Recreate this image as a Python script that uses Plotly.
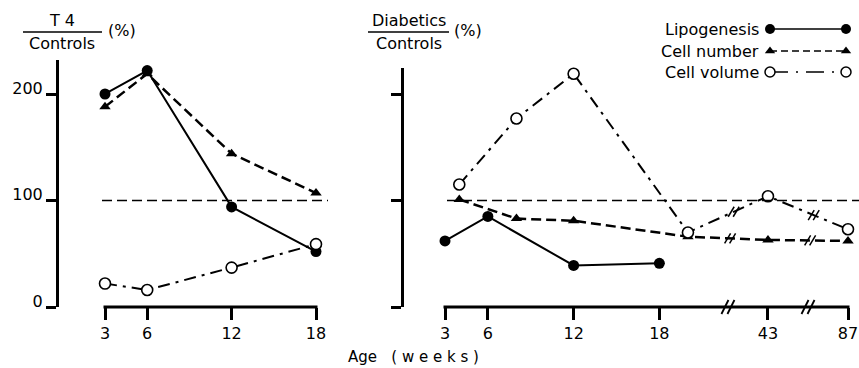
import numpy as np
import plotly.graph_objects as go

W, H = 859, 368

# ---------------- data ----------------
left_ages = [3, 6, 12, 18]
left_lipogenesis = [200, 222, 94, 52]
left_cell_number = [188, 219, 144, 107]
left_cell_volume = [22, 16, 37, 59]

right_lipo_ages = [3, 6, 12, 18]
right_lipogenesis = [62, 85, 39, 41]
right_other_ages = [4, 8, 12, 20, 43, 87]
right_cell_number = [101, 83, 81, 66, 63, 62]
right_cell_volume = [115, 177, 219, 70, 104, 73]

left_xticks = [3, 6, 12, 18]
right_xticks = [3, 6, 12, 18, 43, 87]
yticks = [0, 100, 200]
reference_level = 100

series_names = ["Lipogenesis", "Cell number", "Cell volume"]

# ---------------- broken axis scale ----------------
LINEAR_END = 20
BROKEN_AGES = [43, 87]
GAP = 5.6


def bx(age):
    if age <= LINEAR_END:
        return age
    return LINEAR_END + GAP * (BROKEN_AGES.index(age) + 1)


# ---------------- layout geometry (pixels) ----------------
Y0_PX = 307.0          # pixel row of y = 0
Y_SCALE = 1.065        # px per %
L_X = (105, 316)       # left x-axis pixel extent (3 .. 18)
R_X = (445, 848)       # right x-axis pixel extent (3 .. 87)
L_TOP, R_TOP = 60, 68  # top of y axis lines
L_YAX, R_YAX = 57, 402

R_RANGE = (3, bx(87))


def px(xp):
    return xp / W


def py(yp):
    return 1 - yp / H


def rx_px(p):
    return R_X[0] + (p - R_RANGE[0]) * (R_X[1] - R_X[0]) / (R_RANGE[1] - R_RANGE[0])


def y_px(v):
    return Y0_PX - v * Y_SCALE


FONT = "DejaVu Sans"
BLACK = "black"

styles = {
    "Lipogenesis": dict(line=dict(color=BLACK, width=2),
                        marker=dict(symbol="circle", size=11, color=BLACK)),
    "Cell number": dict(line=dict(color=BLACK, width=2.5, dash="10px,5px"),
                        marker=dict(symbol="triangle-up", size=10, color=BLACK)),
    "Cell volume": dict(line=dict(color=BLACK, width=2, dash="12px,6px,3px,6px"),
                        marker=dict(symbol="circle", size=11, color="white",
                                    line=dict(width=1.6, color=BLACK))),
}

fig = go.Figure()

# left panel
for name, vals in zip(series_names, [left_lipogenesis, left_cell_number, left_cell_volume]):
    fig.add_trace(go.Scatter(x=left_ages, y=vals, mode="lines+markers", xaxis="x", yaxis="y",
                             cliponaxis=False, showlegend=False, name=name, **styles[name]))

# right panel
right_sets = [(right_lipo_ages, right_lipogenesis),
              (right_other_ages, right_cell_number),
              (right_other_ages, right_cell_volume)]
for name, (ages, vals) in zip(series_names, right_sets):
    fig.add_trace(go.Scatter(x=[bx(a) for a in ages], y=vals, mode="lines+markers",
                             xaxis="x2", yaxis="y2", cliponaxis=False, showlegend=False,
                             name=name, **styles[name]))

# legend drawn in its own pixel-space axes
legend_rows = [29, 51, 72]
legend_marker = {
    "Lipogenesis": dict(symbol="circle", size=10, color=BLACK),
    "Cell number": dict(symbol="triangle-up", size=9, color=BLACK),
    "Cell volume": dict(symbol="circle", size=10, color="white", line=dict(width=1.5, color=BLACK)),
}
legend_line = {
    "Lipogenesis": dict(color=BLACK, width=1.6),
    "Cell number": dict(color=BLACK, width=1.6, dash="7px,4px"),
    "Cell volume": dict(color=BLACK, width=1.6, dash="18px,8px,2px,8px"),
}
for name, yr in zip(series_names, legend_rows):
    fig.add_trace(go.Scatter(x=[770, 846], y=[yr, yr], mode="lines+markers", xaxis="x3", yaxis="y3",
                             cliponaxis=False, showlegend=False, hoverinfo="skip",
                             line=legend_line[name], marker=legend_marker[name]))

annotations = []
for name, yr in zip(series_names, legend_rows):
    annotations.append(dict(x=761, y=yr, xref="x3", yref="y3", text=name, showarrow=False,
                            xanchor="right", yanchor="middle", font=dict(size=16, family=FONT, color=BLACK)))


# panel titles (fractions)
def fraction(cx, num, den, bar, pct_x):
    out = [
        dict(x=px(cx), y=py(21), xref="paper", yref="paper", text=num, showarrow=False,
             xanchor="center", yanchor="middle", font=dict(size=16, family=FONT, color=BLACK)),
        dict(x=px(cx), y=py(44), xref="paper", yref="paper", text=den, showarrow=False,
             xanchor="center", yanchor="middle", font=dict(size=16, family=FONT, color=BLACK)),
        dict(x=px(pct_x), y=py(31), xref="paper", yref="paper", text="(%)", showarrow=False,
             xanchor="left", yanchor="middle", font=dict(size=16, family=FONT, color=BLACK)),
    ]
    shp = dict(type="line", xref="paper", yref="paper", x0=px(bar[0]), x1=px(bar[1]),
               y0=py(32), y1=py(32), line=dict(color=BLACK, width=1.5))
    return out, shp


shapes = []
a, s = fraction(62, "T\u00a04", "Controls", (23, 102), 106)
annotations += a
shapes.append(s)
a, s = fraction(409, "Diabetics", "Controls", (368, 449), 452)
annotations += a
shapes.append(s)

annotations.append(dict(x=px(413), y=py(357), xref="paper", yref="paper",
                        text="Age\u00a0\u00a0\u00a0(\u00a0w\u00a0e\u00a0e\u00a0k\u00a0s\u00a0)",
                        showarrow=False, xanchor="center", yanchor="middle",
                        font=dict(size=15, family=FONT, color=BLACK)))

# x-axis baselines
shapes.append(dict(type="line", xref="paper", yref="paper", x0=px(L_X[0] - 1.5), x1=px(L_X[1] + 1.5),
                   y0=py(Y0_PX), y1=py(Y0_PX), line=dict(color=BLACK, width=3)))
shapes.append(dict(type="line", xref="paper", yref="paper", x0=px(R_X[0] - 1.5), x1=px(R_X[1] + 1.5),
                   y0=py(Y0_PX), y1=py(Y0_PX), line=dict(color=BLACK, width=3)))

# reference (100 %) dashed lines
for x0, x1 in [(102, 328), (447, 859)]:
    shapes.append(dict(type="line", xref="paper", yref="paper", x0=px(x0), x1=px(x1),
                       y0=py(y_px(reference_level)), y1=py(y_px(reference_level)),
                       line=dict(color=BLACK, width=1.4, dash="10px,5px")))


def slashes(cx, cy, half_h=6, lean=3, sep=5, width=1.6):
    out = []
    for dx in (-sep / 2, sep / 2):
        out.append(dict(type="line", xref="paper", yref="paper",
                        x0=px(cx + dx - lean), y0=py(cy + half_h),
                        x1=px(cx + dx + lean), y1=py(cy - half_h),
                        line=dict(color=BLACK, width=width)))
    return out


# axis breaks
break_pos = [(LINEAR_END + bx(BROKEN_AGES[0])) / 2, (bx(BROKEN_AGES[0]) + bx(BROKEN_AGES[1])) / 2]
for bp in break_pos:
    shapes += slashes(rx_px(bp), Y0_PX, half_h=7, lean=3.5, sep=6, width=1.8)

# breaks on data lines
other_pos = [bx(a) for a in right_other_ages]
for vals, offset in [(right_cell_number, 0.15), (right_cell_volume, 0.4)]:
    pos_px = [rx_px(p) for p in other_pos]
    val_px = [y_px(v) for v in vals]
    for bp in break_pos:
        cxp = rx_px(bp + offset)
        cyp = float(np.interp(cxp, pos_px, val_px))
        shapes += slashes(cxp, cyp, half_h=5, lean=3, sep=5, width=1.5)

axis_common = dict(showgrid=False, zeroline=False, linecolor=BLACK, linewidth=3,
                   ticks="outside", tickcolor=BLACK, tickwidth=3, automargin=False,
                   tickfont=dict(size=16, family=FONT, color=BLACK))

fig.update_layout(
    template="none",
    width=W, height=H,
    margin=dict(l=0, r=0, t=0, b=0, pad=0, autoexpand=False),
    paper_bgcolor="white", plot_bgcolor="white",
    font=dict(family=FONT, color=BLACK),
    showlegend=False,
    hovermode=False,
    xaxis=dict(domain=[px(L_X[0]), px(L_X[1])], range=[3, 18], anchor="y", showline=False,
               tickvals=left_xticks, ticktext=[str(t) for t in left_xticks], ticklen=12, **axis_common),
    yaxis=dict(domain=[py(Y0_PX), py(L_TOP)], range=[0, (Y0_PX - L_TOP) / Y_SCALE],
               anchor="free", position=px(L_YAX), tickvals=yticks, ticklen=10, showline=True,
               ticklabelshift=-6, **axis_common),
    xaxis2=dict(domain=[px(R_X[0]), px(R_X[1])], range=list(R_RANGE), anchor="y2", showline=False,
                tickvals=[bx(t) for t in right_xticks], ticktext=[str(t) for t in right_xticks],
                ticklen=12, **axis_common),
    yaxis2=dict(domain=[py(Y0_PX), py(R_TOP)], range=[0, (Y0_PX - R_TOP) / Y_SCALE],
                anchor="free", position=px(R_YAX), tickvals=yticks, ticklen=10, showline=True,
                showticklabels=False, **axis_common),
    xaxis3=dict(domain=[px(630), 1], range=[630, W], visible=False, anchor="y3", automargin=False),
    yaxis3=dict(domain=[py(90), py(10)], range=[90, 10], visible=False, anchor="x3", automargin=False),
    annotations=annotations,
    shapes=shapes,
)

fig.write_html("out.html", config={"displayModeBar": False, "staticPlot": True},
               post_script="document.documentElement.style.margin='0px';"
                           "document.body.style.margin='0px';"
                           "document.body.style.overflow='hidden';")
